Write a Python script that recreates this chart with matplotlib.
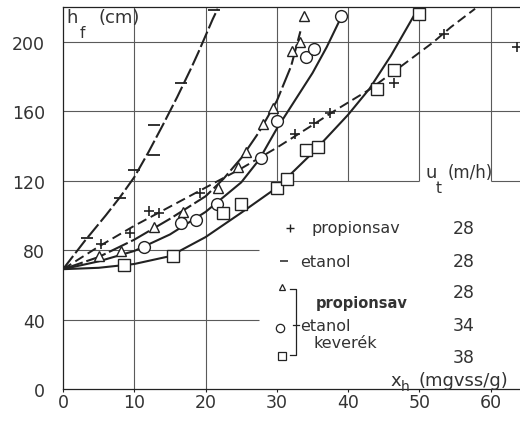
import matplotlib.pyplot as plt

plt.rcParams["font.family"] = ["DejaVu Sans", "Noto Sans"]

# propionsav, u_t = 28 m/h  (+)
prop_x = [5.4, 9.4, 12.0, 13.4, 19.2, 32.6, 35.2, 37.5, 46.4, 53.4, 63.7]
prop_y = [83.4, 89.7, 102.3, 101.1, 112.6, 146.9, 153.3, 159.2, 176.5, 204.3, 196.7]
prop_fit_x = [0, 5, 10, 15, 20, 25, 30, 35, 38, 43, 47.4, 51.9, 54.4, 57.8]
prop_fit_y = [69, 82, 94, 105, 116, 127, 139, 152, 160, 172.5, 185.8, 199.6, 208.4, 219]

# etanol, u_t = 28 m/h  (-)
etanol_x = [3.4, 8.0, 10.0, 12.7, 12.7, 16.6, 21.2]
etanol_y = [87, 110, 126, 135, 152, 176, 218]
etanol_fit_x = [0, 3, 6, 8, 10, 12, 14, 16, 18, 19, 20, 21, 21.7]
etanol_fit_y = [69, 85, 100, 110.5, 122, 136.5, 152, 168, 185, 194, 203.5, 213, 219]

# keverék (propionsav + etanol), u_t = 28 / 34 / 38 m/h
tri_x = [5.1, 8.2, 12.8, 16.9, 21.8, 24.5, 25.7, 28.0, 29.5, 32.1, 33.3, 33.8]
tri_y = [76.6, 79.5, 93.1, 101.7, 116, 127.6, 136.4, 152.7, 161.6, 194.4, 199.6, 214.9]
tri_fit_x = [0, 5, 10, 15, 20, 22.5, 25, 27.5, 30, 32, 33.3]
tri_fit_y = [69, 76, 86, 98, 111, 121, 133, 148, 166, 186, 206]

circ_x = [11.4, 16.6, 18.6, 21.6, 27.8, 30.0, 34.1, 35.2, 39.0]
circ_y = [81.7, 95.4, 97.1, 106.3, 132.9, 154.5, 191, 195.6, 214.9]
circ_fit_x = [0, 5, 10, 15, 20, 25, 27.5, 30, 32.5, 35, 37, 39]
circ_fit_y = [69, 73.5, 79.5, 89, 102, 119, 132, 150, 166, 182, 197, 214]

sq_x = [8.5, 15.4, 22.5, 25.0, 30.0, 31.4, 34.1, 35.8, 44.0, 46.4, 49.9]
sq_y = [71.4, 76.6, 101.1, 106.3, 116, 121.2, 137.5, 139.3, 172.5, 183.5, 216]
sq_fit_x = [0, 5, 10, 15, 20, 25, 30, 35, 40, 43, 46, 49.5]
sq_fit_y = [69, 69.8, 72, 76.5, 87.5, 101.5, 116, 136, 158, 173, 192, 217]

x_ticks = [0, 10, 20, 30, 40, 50, 60]
y_ticks = [0, 40, 80, 120, 160, 200]

legend_names = ["propionsav", "etanol", "propionsav", "etanol", "keverék"]
legend_ut = ["28", "28", "28", "34", "38"]

ink = "#222222"
grid_c = "#5a5a5a"

fig = plt.figure(figsize=(5.2, 4.31), dpi=100)
ax = fig.add_axes([63 / 520, 1 - 390 / 431, 1 - 63 / 520, 382 / 431])
ax.set_xlim(0, 64.1)
ax.set_ylim(0, 220)

# partial grid, as on the original drawing
ax.vlines([10, 20], 0, 220, color=grid_c, lw=0.8, zorder=1)
ax.vlines([30, 40, 50, 60], 120, 220, color=grid_c, lw=0.8, zorder=1)
ax.hlines([160, 200], 0, 64.1, color=grid_c, lw=0.8, zorder=1)
ax.hlines(120, 0, 50, color=grid_c, lw=0.8, zorder=1)
ax.hlines(120, 60, 64.1, color=grid_c, lw=0.8, zorder=1)
ax.hlines([40, 80], 0, 27.5, color=grid_c, lw=0.8, zorder=1)

ax.spines["right"].set_visible(False)
for s in ["left", "bottom", "top"]:
    ax.spines[s].set_color(ink)
    ax.spines[s].set_linewidth(0.9)

ax.set_xticks(x_ticks)
ax.set_yticks(y_ticks)
ax.tick_params(axis="x", direction="out", length=2.5, width=0.8, color=ink,
               labelsize=12.5, labelcolor="#333333", pad=0.5)
ax.tick_params(axis="y", length=0, labelsize=12.5, labelcolor="#333333", pad=13)

# fitted curves
ax.plot(etanol_fit_x, etanol_fit_y, color=ink, lw=1.5, dashes=(8, 1.7), zorder=2)
ax.plot(prop_fit_x, prop_fit_y, color=ink, lw=1.4, dashes=(5, 2.5), zorder=2)
ax.plot(tri_fit_x, tri_fit_y, color=ink, lw=1.5, dashes=(10, 1.8), zorder=2)
ax.plot(circ_fit_x, circ_fit_y, color=ink, lw=1.5, zorder=2)
ax.plot(sq_fit_x, sq_fit_y, color=ink, lw=1.5, zorder=2)

# measured points
ax.plot(prop_x, prop_y, ls="none", marker="+", ms=7, mew=1.2, color=ink, zorder=3)
ax.plot(etanol_x, etanol_y, ls="none", marker="_", ms=8, mew=1.3, color=ink, zorder=3)
ax.plot(tri_x, tri_y, ls="none", marker="^", ms=7, mfc="white", mec=ink, mew=1.0, zorder=3)
ax.plot(circ_x, circ_y, ls="none", marker="o", ms=8.5, mfc="white", mec=ink, mew=1.0, zorder=3)
ax.plot(sq_x, sq_y, ls="none", marker="s", ms=8, mfc="white", mec=ink, mew=1.0, zorder=3)

txt = dict(color="#333333", va="center", ha="left")

# axis titles
ax.text(0.5, 214.3, "h", fontsize=13, **txt)
ax.text(2.3, 205.5, "f", fontsize=11, **txt)
ax.text(5.0, 214.3, "(cm)", fontsize=13, **txt)
ax.text(46.0, 5.2, "x", fontsize=13, **txt)
ax.text(47.4, 1.8, "h", fontsize=10, **txt)
ax.text(49.8, 5.2, "(mgvss/g)", fontsize=13, **txt)
ax.text(50.9, 124.7, "u", fontsize=13, **txt)
ax.text(52.2, 116.0, "t", fontsize=11, **txt)
ax.text(54.0, 124.7, "(m/h)", fontsize=12, **txt)

# key
key_y = [92.8, 73.5, 55.8, 36.8, 18.4]
ax.plot(31.8, 93.0, marker="+", ms=6, mew=1.0, color=ink)
ax.plot(31.0, 73.5, marker="_", ms=6, mew=1.1, color=ink)
ax.plot(30.7, 58.5, marker="^", ms=5, mfc="white", mec=ink, mew=0.9)
ax.plot(30.4, 35.0, marker="o", ms=6, mfc="white", mec=ink, mew=0.9)
ax.plot(30.7, 18.8, marker="s", ms=5.5, mfc="white", mec=ink, mew=0.9)
ax.text(34.8, 93.0, legend_names[0], fontsize=11.5, **txt)
ax.text(33.3, 73.5, legend_names[1], fontsize=11.5, **txt)
ax.text(35.4, 50.0, legend_names[2], fontsize=10.5, fontweight="bold", **txt)
ax.text(33.3, 36.8, legend_names[3], fontsize=11.5, **txt)
ax.text(35.2, 26.6, legend_names[4], fontsize=11.5, **txt)
for lab, yy in zip(legend_ut, key_y):
    ax.text(54.6, yy, lab, fontsize=12.5, **txt)

# bracket joining the mixture symbols
ax.plot([31.8, 32.7, 32.7, 31.8], [57.5, 57.5, 19.8, 19.8], color=ink, lw=0.9)
ax.plot([32.3, 33.1], [36.6, 36.6], color=ink, lw=0.9)

fig.savefig("out.png", dpi=100)
